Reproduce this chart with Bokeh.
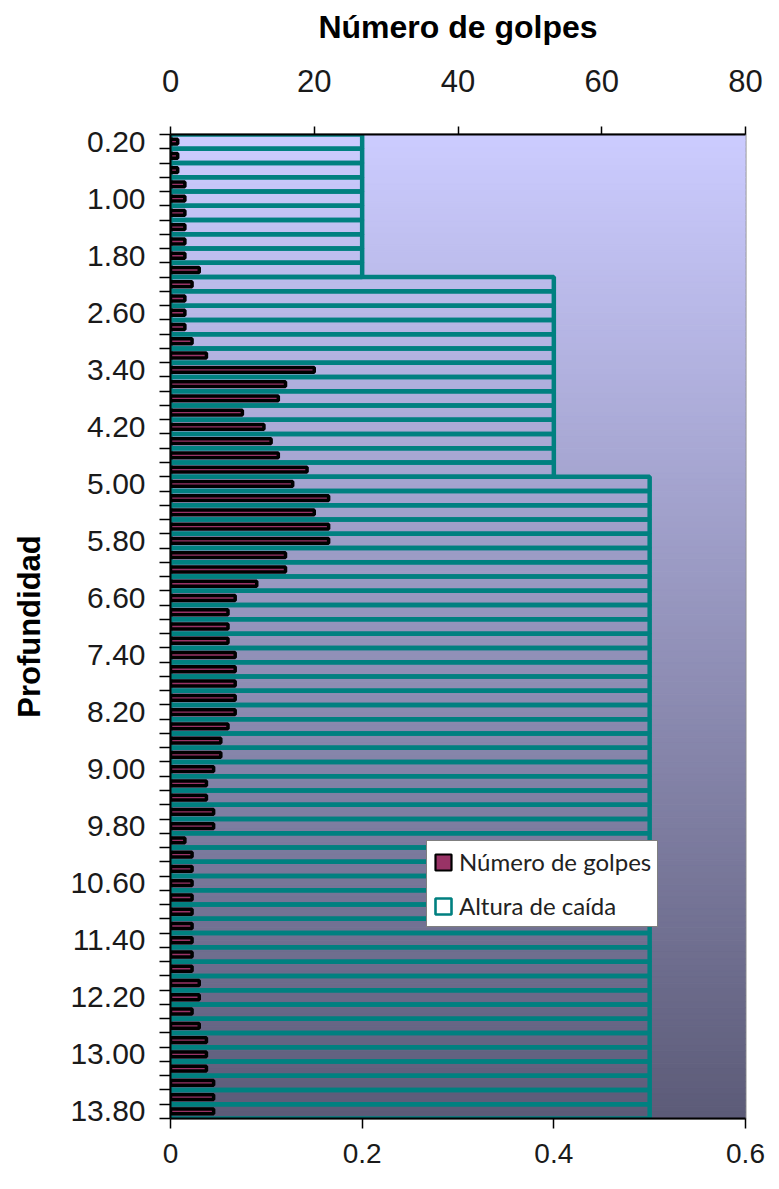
from bokeh.plotting import figure
from bokeh.models import (Range1d, LinearAxis, FixedTicker, NumeralTickFormatter,
                          Legend, LegendItem)
from bokeh.embed import file_html
from bokeh.resources import INLINE
import numpy as np

# ---------------- data ----------------
depths = [0.20, 0.40, 0.60, 0.80, 1.00, 1.20, 1.40, 1.60, 1.80, 2.00,
          2.20, 2.40, 2.60, 2.80, 3.00, 3.20, 3.40, 3.60, 3.80, 4.00,
          4.20, 4.40, 4.60, 4.80, 5.00, 5.20, 5.40, 5.60, 5.80, 6.00,
          6.20, 6.40, 6.60, 6.80, 7.00, 7.20, 7.40, 7.60, 7.80, 8.00,
          8.20, 8.40, 8.60, 8.80, 9.00, 9.20, 9.40, 9.60, 9.80, 10.00,
          10.20, 10.40, 10.60, 10.80, 11.00, 11.20, 11.40, 11.60, 11.80, 12.00,
          12.20, 12.40, 12.60, 12.80, 13.00, 13.20, 13.40, 13.60, 13.80]

golpes = [1, 1, 1, 2, 2, 2, 2, 2, 2, 4,
          3, 2, 2, 2, 3, 5, 20, 16, 15, 10,
          13, 14, 15, 19, 17, 22, 20, 22, 22, 16,
          16, 12, 9, 8, 8, 8, 9, 9, 9, 9,
          9, 8, 7, 7, 6, 5, 5, 6, 6, 2,
          3, 3, 3, 3, 3, 3, 3, 3, 3, 4,
          4, 3, 4, 5, 5, 5, 6, 6, 6]

altura = [0.2] * 10 + [0.4] * 14 + [0.5] * 45

top_ticks = [0, 20, 40, 60, 80]
bottom_ticks = [0, 0.2, 0.4, 0.6]
depth_label_ticks = depths[::4]

series_names = ["Número de golpes", "Altura de caída"]
x_title = "Número de golpes"
y_title = "Profundidad"

# ---------------- styles ----------------
TEAL = "#008080"
PLUM = "#993366"
FONT = "Liberation Sans"
step = 0.2
y_lo = depths[0] - step / 2
y_hi = depths[-1] + step / 2

p = figure(frame_width=575, frame_height=984,
           x_range=Range1d(0, 0.6), y_range=Range1d(y_hi, y_lo),
           output_backend="svg", toolbar_location=None,
           min_border_left=170, min_border_top=134,
           min_border_right=21, min_border_bottom=50)
p.extra_x_ranges = {"golpes": Range1d(top_ticks[0], top_ticks[-1])}
p.xgrid.visible = False
p.ygrid.visible = False
p.background_fill_color = "white"
p.border_fill_color = "white"
p.outline_line_color = "#8c8c8c"
p.outline_line_width = 2

# gradient background of the plot area
n = 160
edges = np.linspace(y_lo, y_hi, n + 1)
c_top = np.array([204, 204, 255])
c_bot = np.array([92, 91, 120])
tt = (np.arange(n) + 0.5) / n
cols = ["#%02x%02x%02x" % tuple(np.round(c_top + (c_bot - c_top) * t).astype(int)) for t in tt]
p.quad(left=0, right=0.6, top=edges[:-1], bottom=edges[1:],
       fill_color=cols, line_color=cols, line_width=1)

# Altura de caída (outlined boxes)
p.hbar(y=depths, left=0, right=altura, height=step,
       fill_alpha=0, line_color=TEAL, line_width=4.5)

# Número de golpes (dark bars)
p.hbar(y=depths, left=0, right=golpes, height=step * 0.34,
       x_range_name="golpes", fill_color=PLUM, line_color="black", line_width=3.5)

# legend proxies (a single NaN row: drawn only in the legend)
leg1 = p.hbar(y=[np.nan], right=[np.nan], height=0.1,
              fill_color=PLUM, line_color="black", line_width=2.2)
leg2 = p.hbar(y=[np.nan], right=[np.nan], height=0.1,
              fill_color="white", line_color=TEAL, line_width=2.6)
legend = Legend(items=[LegendItem(label=series_names[0], renderers=[leg1]),
                       LegendItem(label=series_names[1], renderers=[leg2])],
                location=(256, 191), orientation="vertical",
                padding=6, spacing=15, margin=0,
                glyph_width=20, glyph_height=20, label_height=28, label_standoff=6,
                label_text_font="Lato", label_text_font_size="24px",
                label_text_color="#222222",
                border_line_color="black", border_line_width=1.2,
                background_fill_color="white", background_fill_alpha=1)
p.add_layout(legend)

# bottom axis (Altura de caída)
xb = p.xaxis[0]
xb.ticker = FixedTicker(ticks=bottom_ticks)
xb.major_label_overrides = {0: "0"}
xb.major_tick_out = 10
xb.major_tick_in = 0
xb.minor_tick_out = 0
xb.major_label_standoff = 15

# top axis (Número de golpes)
xt = LinearAxis(x_range_name="golpes", ticker=FixedTicker(ticks=top_ticks),
                axis_label=x_title)
xt.major_tick_out = 8
xt.major_tick_in = 0
xt.minor_tick_out = 0
xt.major_label_standoff = 35
xt.axis_label_standoff = 22
p.add_layout(xt, "above")

# left axis (Profundidad)
yl = p.yaxis[0]
bounds = [round(d - step / 2, 2) for d in depths] + [round(depths[-1] + step / 2, 2)]
yl.ticker = FixedTicker(ticks=depth_label_ticks, minor_ticks=bounds)
yl.formatter = NumeralTickFormatter(format="0.00")
yl.axis_label = y_title
yl.major_tick_out = 0
yl.major_tick_in = 0
yl.minor_tick_out = 11
yl.minor_tick_in = 0
yl.major_label_standoff = 14
yl.axis_label_standoff = 20

for ax in (xb, xt, yl):
    ax.axis_line_color = "black"
    ax.axis_line_width = 2
    ax.major_tick_line_color = "black"
    ax.major_tick_line_width = 1.5
    ax.minor_tick_line_color = "black"
    ax.minor_tick_line_width = 1.5
    ax.major_label_text_font = FONT
    ax.major_label_text_font_size = "31px"
    ax.major_label_text_color = "#1a1a1a"
    ax.axis_label_text_font = FONT
    ax.axis_label_text_font_style = "bold"
    ax.axis_label_text_font_size = "31px"
    ax.axis_label_text_color = "black"
yl.major_label_text_font_size = "30px"
xb.major_label_text_font_size = "28px"
xt.axis_label_text_font_size = "32px"

open("out.html", "w").write(file_html(p, INLINE))
